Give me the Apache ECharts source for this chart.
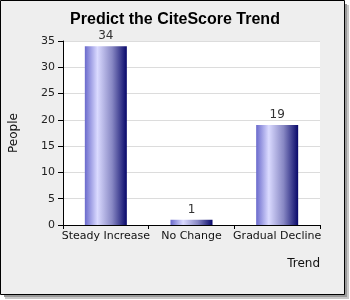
<!DOCTYPE html>
<html><head><meta charset="utf-8">
<script src="https://cdn.jsdelivr.net/npm/echarts@6/dist/echarts.min.js"></script>
<style>html,body{margin:0;padding:0;background:#fff;}#c{width:350px;height:300px;}</style>
</head><body><div id="c"></div>
<script>
const categories = ['Steady Increase', 'No Change', 'Gradual Decline'];
const people = [34, 1, 19];
const yTicks = {min: 0, max: 35, interval: 5};
const titleText = 'Predict the CiteScore Trend';
const xName = 'Trend';
const yName = 'People';

const chart = echarts.init(document.getElementById('c'), null, {renderer: 'canvas'});
const font = 'DejaVu Sans';
chart.setOption({
  backgroundColor: 'transparent',
  animation: false,
  graphic: [
    {type: 'rect', z: -10, shape: {x: 5, y: 5, width: 344, height: 294}, style: {fill: '#c8c8c8'}, silent: true},
    {type: 'rect', z: -10, shape: {x: 4, y: 4, width: 343, height: 293}, style: {fill: '#999'}, silent: true},
    {type: 'rect', z: -9, shape: {x: 0.5, y: 0.5, width: 344, height: 294}, style: {fill: '#eeeeee', stroke: '#000', lineWidth: 1}, silent: true}
  ],
  title: {
    text: titleText, left: 'center', top: 7,
    textStyle: {fontFamily: 'Liberation Sans', fontSize: 16, fontWeight: 'bold', color: '#000'}
  },
  grid: {left: 61, top: 41, right: 30, bottom: 75, show: true, backgroundColor: '#fff', borderWidth: 0},
  xAxis: {
    type: 'category', data: categories,
    name: xName, nameLocation: 'end', nameGap: 0,
    nameTextStyle: {fontFamily: font, fontSize: 12, color: '#111', align: 'right', verticalAlign: 'top', padding: [33, 0, 0, 0]},
    axisLine: {lineStyle: {color: '#000', width: 1}},
    axisTick: {show: true, length: 4, lineStyle: {color: '#000'}},
    axisLabel: {fontFamily: font, fontSize: 11, color: '#111', margin: 6, interval: 0},
    splitLine: {show: false}
  },
  yAxis: {
    type: 'value', min: yTicks.min, max: yTicks.max, interval: yTicks.interval,
    name: yName, nameLocation: 'middle', nameGap: 43, nameRotate: 90,
    nameTextStyle: {fontFamily: font, fontSize: 12, color: '#111'},
    axisLine: {show: true, lineStyle: {color: '#000', width: 1}},
    axisTick: {show: true, length: 5, lineStyle: {color: '#000'}},
    axisLabel: {fontFamily: font, fontSize: 11, color: '#222', margin: 8},
    splitLine: {show: true, lineStyle: {color: '#dcdcdc', width: 1}}
  },
  series: [{
    type: 'bar', data: people, barWidth: 42,
    itemStyle: {
      color: new echarts.graphic.LinearGradient(0, 0, 1, 0, [
        {offset: 0, color: '#6a6acc'},
        {offset: 0.3, color: '#dadaff'},
        {offset: 0.65, color: '#8888c4'},
        {offset: 1, color: '#08086a'}
      ])
    },
    label: {show: true, position: 'top', distance: 4, fontFamily: font, fontSize: 12, color: '#333'}
  }]
});
</script></body></html>
